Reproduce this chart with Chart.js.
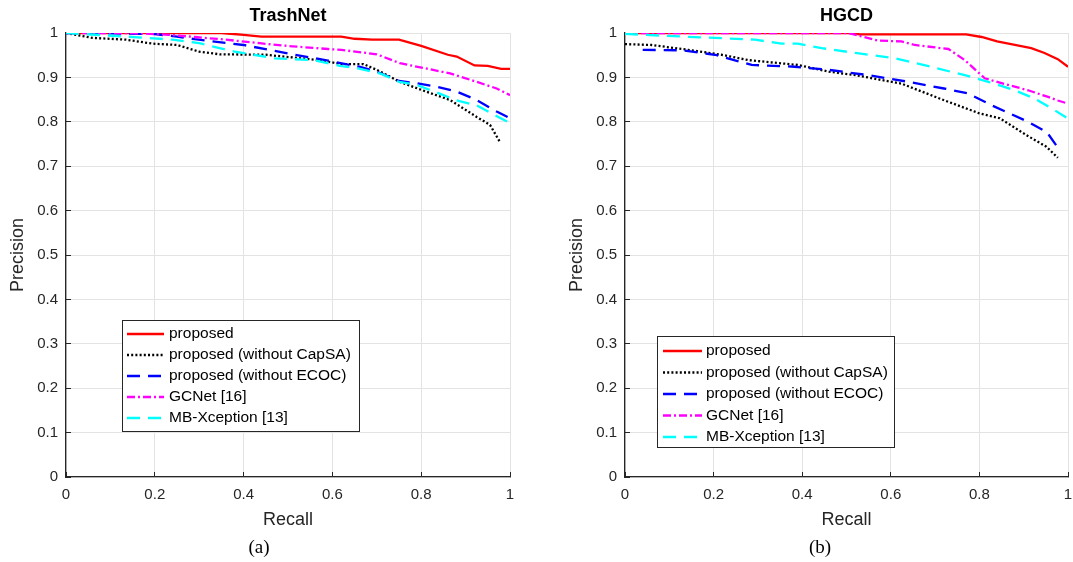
<!DOCTYPE html>
<html>
<head>
<meta charset="utf-8">
<script src="https://cdn.jsdelivr.net/npm/chart.js@4.4.0/dist/chart.umd.min.js"></script>
<style>
  html, body { margin: 0; overflow: hidden; }
  body { background: #fff; width: 1073px; height: 562px; position: relative; }
  .box { position: absolute; top: 0; height: 540px; width: 530px; }
  #boxA { left: 0; }
  #boxB { left: 559px; }
  .cap { position: absolute; top: 536px; width: 60px; text-align: center; line-height: 24px;
         font: 19px "Liberation Serif", "Times New Roman", serif; color: #000; }
</style>
</head>
<body>
<div class="box" id="boxA"><canvas id="chartA"></canvas></div>
<div class="box" id="boxB"><canvas id="chartB"></canvas></div>
<div class="cap" style="left:229px">(a)</div>
<div class="cap" style="left:790px">(b)</div>

<script>
// Tên các đường (legend)
const seriesNames = ['proposed', 'proposed (without CapSA)', 'proposed (without ECOC)', 'GCNet [16]', 'MB-Xception [13]'];

// TrashNet: recall / precision
const trashPropR = [0, 0.35, 0.40, 0.44, 0.62, 0.65, 0.69, 0.75, 0.80, 0.86, 0.88, 0.92, 0.95, 0.98, 1.0];
const trashPropP = [1, 1, 0.996, 0.992, 0.992, 0.987, 0.985, 0.985, 0.971, 0.951, 0.947, 0.927, 0.926, 0.919, 0.919];
const trashCapR = [0, 0.06, 0.135, 0.195, 0.25, 0.30, 0.346, 0.45, 0.51, 0.57, 0.62, 0.67, 0.70, 0.752, 0.80, 0.865, 0.925, 0.955, 0.977];
const trashCapP = [1, 0.989, 0.985, 0.976, 0.973, 0.958, 0.952, 0.951, 0.945, 0.939, 0.93, 0.93, 0.917, 0.89, 0.872, 0.849, 0.811, 0.793, 0.755];
const trashEcocR = [0, 0.195, 0.25, 0.29, 0.40, 0.51, 0.59, 0.66, 0.70, 0.75, 0.79, 0.835, 0.88, 0.925, 0.97, 1.0];
const trashEcocP = [1, 0.998, 0.992, 0.986, 0.973, 0.952, 0.938, 0.924, 0.913, 0.892, 0.887, 0.879, 0.868, 0.849, 0.823, 0.808];
const trashGcnR = [0, 0.15, 0.23, 0.29, 0.36, 0.436, 0.51, 0.59, 0.62, 0.70, 0.752, 0.865, 0.925, 0.97, 1.0];
const trashGcnP = [1, 1, 0.996, 0.991, 0.985, 0.977, 0.97, 0.964, 0.962, 0.952, 0.932, 0.909, 0.89, 0.875, 0.86];
const trashMbxR = [0, 0.135, 0.24, 0.30, 0.38, 0.47, 0.556, 0.617, 0.66, 0.71, 0.75, 0.79, 0.835, 0.88, 0.925, 0.966, 1.0];
const trashMbxP = [1, 0.992, 0.985, 0.977, 0.958, 0.943, 0.939, 0.926, 0.92, 0.908, 0.89, 0.883, 0.866, 0.848, 0.837, 0.815, 0.797];

// HGCD
const hgcdPropR = [0, 0.504, 0.53, 0.77, 0.805, 0.84, 0.88, 0.917, 0.947, 0.977, 1.0];
const hgcdPropP = [1, 1, 0.997, 0.997, 0.991, 0.981, 0.973, 0.966, 0.955, 0.941, 0.924];
const hgcdCapR = [0, 0.06, 0.143, 0.218, 0.278, 0.39, 0.46, 0.52, 0.624, 0.719, 0.80, 0.846, 0.906, 0.951, 0.977];
const hgcdCapP = [0.975, 0.973, 0.962, 0.951, 0.939, 0.928, 0.913, 0.905, 0.886, 0.849, 0.819, 0.808, 0.77, 0.744, 0.719];
const hgcdEcocR = [0.04, 0.128, 0.203, 0.286, 0.383, 0.46, 0.55, 0.64, 0.72, 0.774, 0.83, 0.87, 0.91, 0.952, 0.977];
const hgcdEcocP = [0.962, 0.961, 0.951, 0.928, 0.924, 0.917, 0.905, 0.89, 0.875, 0.864, 0.836, 0.818, 0.80, 0.777, 0.742];
const hgcdGcnR = [0, 0.504, 0.57, 0.624, 0.654, 0.73, 0.767, 0.812, 0.865, 0.91, 0.955, 0.977, 1.0];
const hgcdGcnP = [1, 1, 0.983, 0.981, 0.973, 0.964, 0.939, 0.898, 0.883, 0.871, 0.856, 0.848, 0.841];
const hgcdMbxR = [0, 0.128, 0.203, 0.293, 0.353, 0.39, 0.444, 0.52, 0.61, 0.69, 0.767, 0.82, 0.88, 0.925, 0.97, 1.0];
const hgcdMbxP = [0.998, 0.992, 0.989, 0.985, 0.976, 0.976, 0.966, 0.955, 0.943, 0.924, 0.905, 0.89, 0.871, 0.852, 0.826, 0.807];

// Kiểu đường theo thứ tự seriesNames
const lineColors = ['#ff0000', '#000000', '#0000ff', '#ff00ff', '#00ffff'];
const lineDashes = [[], [2, 2.2], [13, 8], [8, 3, 2, 3], [13, 8]];

Chart.defaults.font.family = '"Liberation Sans", Arial, sans-serif';

function pts(r, p) {
  return r.map((x, i) => ({ x: x, y: p[i] }));
}

// 0, 0.2, ..., 1 (không phải 1.0)
const tickFmt = v => String(Math.round(v * 10) / 10);

// Legend có khung, vẽ bên trong vùng biểu đồ
const boxLegend = {
  id: 'boxLegend',
  afterDraw(chart, args, o) {
    const { ctx, chartArea } = chart;
    const x = Math.round(chartArea.left + o.x), y = Math.round(chartArea.top + o.y);
    ctx.save();
    ctx.fillStyle = '#fff';
    ctx.fillRect(x, y, o.w, o.h);
    ctx.strokeStyle = '#262626';
    ctx.lineWidth = 1;
    ctx.strokeRect(x + 0.5, y + 0.5, o.w, o.h);
    ctx.font = '15.5px "Liberation Sans", Arial, sans-serif';
    ctx.textBaseline = 'middle';
    chart.data.datasets.forEach((ds, i) => {
      const ry = y + o.row0 + i * o.rowGap;
      ctx.beginPath();
      ctx.setLineDash(ds.borderDash);
      ctx.strokeStyle = ds.borderColor;
      ctx.lineWidth = ds.borderWidth;
      ctx.moveTo(x + o.lx0, ry);
      ctx.lineTo(x + o.lx1, ry);
      ctx.stroke();
      ctx.setLineDash([]);
      ctx.fillStyle = '#000';
      ctx.fillText(ds.label, x + o.tx, ry);
    });
    ctx.restore();
  }
};

function makeChart(id, title, rs, ps, padRight, legendOpts) {
  const datasets = seriesNames.map((name, i) => ({
    label: name,
    data: pts(rs[i], ps[i]),
    borderColor: lineColors[i],
    borderDash: lineDashes[i],
    borderWidth: 2.3,
    pointRadius: 0,
    tension: 0,
    fill: false,
    order: seriesNames.length - i
  }));

  return new Chart(document.getElementById(id), {
    type: 'line',
    data: { datasets },
    options: {
      responsive: true,
      maintainAspectRatio: false,
      animation: false,
      layout: { padding: { left: 0, right: padRight, top: 0, bottom: 0 } },
      plugins: {
        legend: { display: false },
        tooltip: { enabled: false },
        title: {
          display: true,
          text: title,
          color: '#000',
          fullSize: false,
          font: { size: 18, weight: 'bold' },
          padding: { top: 5.5, bottom: 5.9 }
        },
        boxLegend: legendOpts
      },
      scales: {
        x: {
          type: 'linear',
          min: 0, max: 1,
          ticks: { stepSize: 0.2, color: '#262626', font: { size: 15 }, padding: 14, maxRotation: 0, callback: tickFmt },
          grid: { color: '#e3e3e3', tickColor: '#262626', tickLength: -5 },
          border: { color: '#262626', width: 1.3 },
          title: { display: true, text: 'Recall', color: '#262626', font: { size: 18 }, padding: { top: 0, bottom: 9 } },
          afterFit: s => { s.height = 63; }
        },
        y: {
          min: 0, max: 1,
          ticks: { stepSize: 0.1, color: '#262626', font: { size: 15 }, padding: 13, callback: tickFmt },
          grid: { color: '#e3e3e3', tickColor: '#262626', tickLength: -5 },
          border: { color: '#262626', width: 1.3 },
          title: { display: true, text: 'Precision', color: '#262626', font: { size: 18 }, padding: { top: 7, bottom: 0 } },
          afterFit: s => { s.width = 66; }
        }
      }
    },
    plugins: [boxLegend]
  });
}

makeChart('chartA', 'TrashNet',
  [trashPropR, trashCapR, trashEcocR, trashGcnR, trashMbxR],
  [trashPropP, trashCapP, trashEcocP, trashGcnP, trashMbxP],
  20,
  { x: 56, y: 287, w: 237, h: 111, row0: 14, rowGap: 21, lx0: 5, lx1: 42, tx: 47 });

makeChart('chartB', 'HGCD',
  [hgcdPropR, hgcdCapR, hgcdEcocR, hgcdGcnR, hgcdMbxR],
  [hgcdPropP, hgcdCapP, hgcdEcocP, hgcdGcnP, hgcdMbxP],
  21,
  { x: 32, y: 303, w: 237, h: 111, row0: 15, rowGap: 21.5, lx0: 6, lx1: 45, tx: 49 });
</script>
</body>
</html>
